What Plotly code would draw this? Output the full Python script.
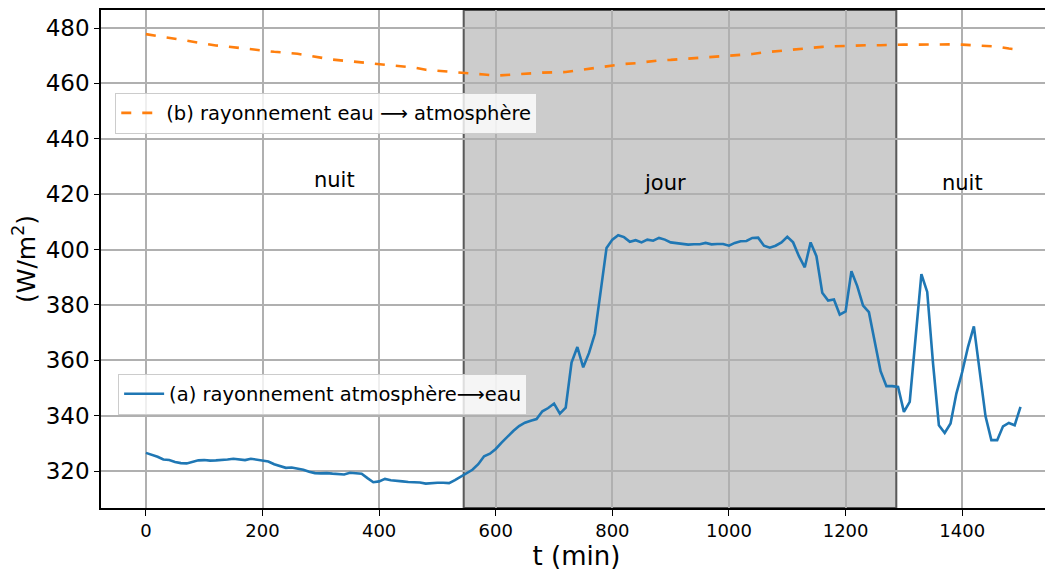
import plotly.graph_objects as go

# ---- data ----
t_a = list(range(0, 1501, 10))
rayon_atm_eau = [
    326.6, 326.0, 325.2, 324.2, 324.0, 323.3, 322.9, 322.8, 323.3, 323.9,
    324.0, 323.8, 323.9, 324.0, 324.2, 324.5, 324.3, 324.0, 324.5, 324.2,
    324.0, 323.5, 322.5, 321.8, 321.2, 321.3, 321.0, 320.5, 319.8, 319.3,
    319.2, 319.3, 319.1, 319.0, 318.8, 319.4, 319.3, 319.1, 317.5, 316.0,
    316.3, 317.2, 316.7, 316.4, 316.3, 316.1, 316.1, 315.9, 315.5, 315.7,
    315.8, 315.8, 315.7, 316.8, 318.0, 319.3, 320.5, 322.5, 325.4, 326.3,
    328.0, 330.3, 332.5, 334.5, 336.3, 337.5, 338.2, 338.8, 341.6, 342.8,
    344.4, 340.8, 342.9, 359.2, 364.8, 357.5, 362.7, 369.6, 385.0, 400.6,
    403.6, 405.2, 404.5, 402.8, 403.4, 402.6, 403.6, 403.2, 404.2, 403.6,
    402.6, 402.4, 402.2, 401.8, 401.9, 401.9, 402.4, 401.9, 402.0, 402.0,
    401.4, 402.4, 403.0, 403.1, 404.2, 404.3, 401.4, 400.7, 401.4, 402.6,
    404.6, 402.6, 397.6, 393.6, 402.6, 397.6, 384.4, 381.6, 382.0, 376.5,
    377.7, 392.2, 386.8, 379.8, 377.4, 366.3, 356.1, 350.7, 350.7, 350.4,
    341.4, 345.0, 367.3, 391.1, 384.7, 358.8, 336.6, 333.8, 337.2, 348.0,
    355.8, 364.9, 372.3, 356.4, 339.8, 331.2, 331.2, 336.2, 337.4, 336.6,
    343.2,
]

t_b = list(range(0, 1501, 20))
rayon_eau_atm = [
    477.8, 477.1, 476.3, 475.7, 475.0, 474.4, 473.7, 473.3, 472.8, 472.5,
    472.0, 471.4, 471.1, 470.7, 470.0, 469.3, 468.6, 468.2, 467.8, 467.4,
    466.9, 466.7, 466.1, 465.7, 464.9, 464.6, 464.2, 463.8, 463.6, 463.2,
    462.8, 463.1, 463.4, 463.6, 463.9, 464.0, 464.1, 464.7, 465.3, 465.9,
    466.6, 467.0, 467.3, 467.8, 468.3, 468.5, 468.8, 469.0, 469.3, 469.5,
    469.8, 470.1, 470.6, 471.2, 471.6, 472.1, 472.4, 472.7, 473.2, 473.4,
    473.6, 473.8, 473.8, 473.8, 474.0, 474.0, 474.0, 474.1, 474.1, 474.1,
    474.0, 473.8, 473.5, 473.3, 472.6, 472.1,
]

jour_debut, jour_fin = 545, 1287
periodes = ["nuit", "jour", "nuit"]
periodes_t = [324, 890, 1400]
periodes_v = [425, 424, 424]

x_ticks = [0, 200, 400, 600, 800, 1000, 1200, 1400]
y_ticks = [320, 340, 360, 380, 400, 420, 440, 460, 480]

FONT = "DejaVu Sans"

fig = go.Figure()

fig.add_trace(go.Scatter(
    x=t_b, y=rayon_eau_atm, mode="lines",
    name="(b) rayonnement eau ⟶ atmosphère",
    line=dict(color="#ff7f0e", width=2.6, dash="10px,11px"),
    legend="legend2",
))
fig.add_trace(go.Scatter(
    x=t_a, y=rayon_atm_eau, mode="lines",
    name="(a) rayonnement atmosphère⟶eau",
    line=dict(color="#1f77b4", width=2.6),
    legend="legend",
))

fig.add_shape(type="rect", xref="x", yref="paper",
              x0=jour_debut, x1=jour_fin, y0=0, y1=1,
              fillcolor="#cccccc", line=dict(color="rgba(40,40,40,0.75)", width=2),
              layer="below")

for txt, tx, ty in zip(periodes, periodes_t, periodes_v):
    fig.add_annotation(x=tx, y=ty, text=txt, showarrow=False,
                       font=dict(family=FONT, size=21, color="black"))

# page body has an 8px margin: the figure is sized/placed to compensate
fig.update_layout(
    width=1045, height=566,
    margin=dict(l=93, r=1, t=2, b=66),
    paper_bgcolor="white", plot_bgcolor="white",
    font=dict(family=FONT, color="black"),
    showlegend=True,
    legend=dict(x=0.018, y=0.27, xanchor="left", yanchor="top", itemwidth=40,
                bgcolor="rgba(255,255,255,0.8)", bordercolor="#cccccc", borderwidth=1,
                font=dict(family=FONT, size=19.5, color="black")),
    legend2=dict(x=0.015, y=0.834, xanchor="left", yanchor="top", itemwidth=40,
                 bgcolor="rgba(255,255,255,0.8)", bordercolor="#cccccc", borderwidth=1,
                 font=dict(family=FONT, size=19.5, color="black")),
)

fig.update_xaxes(
    range=[-77, 1554], tickvals=x_ticks, ticktext=[str(v) for v in x_ticks],
    showgrid=True, gridcolor="#b0b0b0", gridwidth=1.5,
    showline=True, linecolor="black", linewidth=1.5, mirror=True,
    ticks="outside", ticklen=6, tickwidth=1.2, tickcolor="black",
    tickfont=dict(family=FONT, size=18, color="black"),
    title=dict(text="t (min)", font=dict(family=FONT, size=26, color="black"), standoff=4),
    zeroline=False,
)
fig.update_yaxes(
    range=[306.7, 486.5], tickvals=y_ticks, ticktext=[str(v) for v in y_ticks],
    showgrid=True, gridcolor="#b0b0b0", gridwidth=1.5,
    showline=True, linecolor="black", linewidth=1.5, mirror=False,
    ticks="outside", ticklen=5, tickwidth=1.2, tickcolor="black",
    tickfont=dict(family=FONT, size=23, color="black"),
    title=dict(text="(W/m<sup>2</sup>)", font=dict(family=FONT, size=25, color="black"), standoff=8),
    zeroline=False,
)

fig.write_html("out.html")
